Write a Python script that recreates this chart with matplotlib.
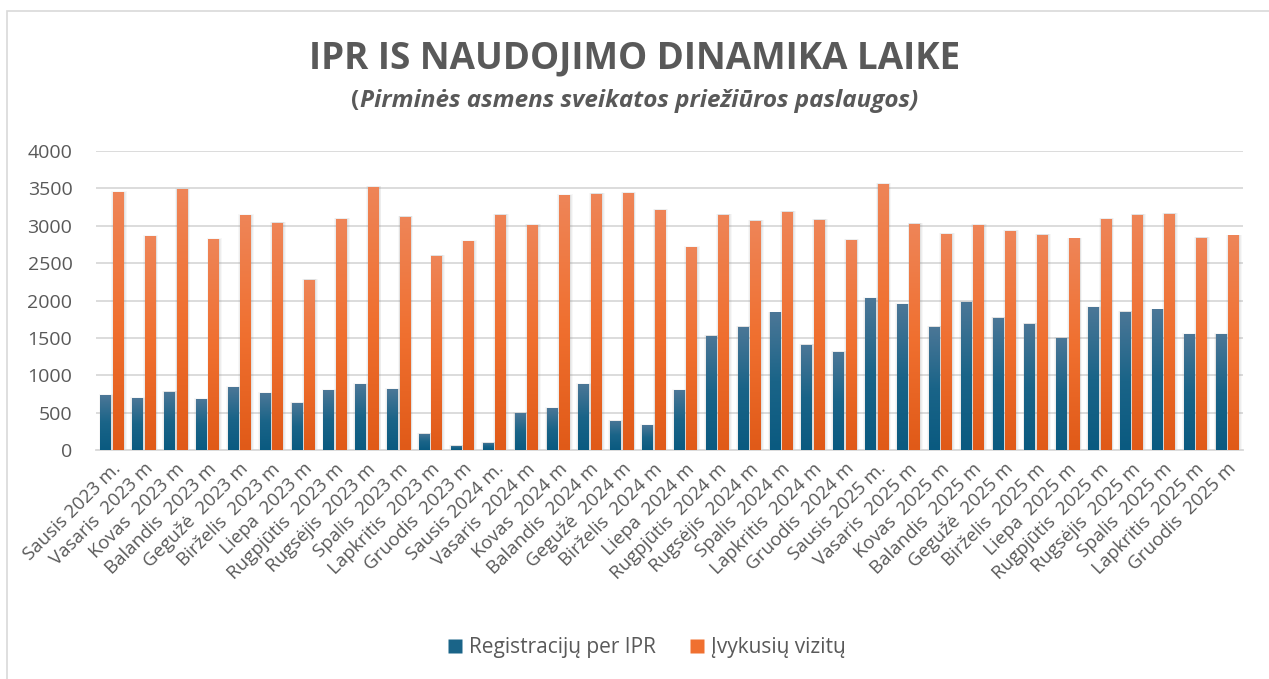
import matplotlib.pyplot as plt
import numpy as np
from matplotlib.colors import LinearSegmentedColormap
from matplotlib.patches import Rectangle
from matplotlib.lines import Line2D

plt.rcParams["font.family"] = ["Open Sans", "DejaVu Sans"]

MONTHS = ["Sausis", "Vasaris", "Kovas", "Balandis", "Gegužė", "Birželis",
          "Liepa", "Rugpjūtis", "Rugsėjis", "Spalis", "Lapkritis", "Gruodis"]
YEARS = [2023, 2024, 2025]

labels = []
for yr in YEARS:
    for i, m in enumerate(MONTHS):
        if i == 0:
            labels.append(f"{m} {yr} m.")
        else:
            labels.append(f"{m}  {yr} m")

registracijos = [730, 690, 780, 680, 840, 760, 630, 800, 880, 810, 220, 60,
                 100, 490, 560, 880, 390, 330, 800, 1530, 1650, 1840, 1410, 1310,
                 2030, 1950, 1650, 1980, 1770, 1690, 1500, 1910, 1850, 1880, 1550, 1550]
vizitai = [3450, 2860, 3490, 2820, 3140, 3040, 2280, 3090, 3520, 3120, 2600, 2790,
           3150, 3010, 3410, 3430, 3440, 3210, 2710, 3150, 3070, 3190, 3080, 2810,
           3560, 3030, 2890, 3010, 2930, 2880, 2830, 3090, 3150, 3160, 2840, 2870]

TEXT = "#595959"
BLUE_CMAP = LinearSegmentedColormap.from_list("b", ["#0A5A80", "#1A6488", "#4C7797"])
ORANGE_CMAP = LinearSegmentedColormap.from_list("o", ["#E05A18", "#F07030", "#EE8558"])

fig = plt.figure(figsize=(12.69, 6.79), dpi=100)
fig.patches.append(Rectangle((7 / 1269, -0.05), 1.2, 1.05 - 11 / 679,
                             transform=fig.transFigure, fill=False,
                             ec="#D9D9D9", lw=1.2))

ax = fig.add_axes([96 / 1269, 1 - 450 / 679, 1147 / 1269, 299 / 679])

x = np.arange(len(labels))
w = 0.33
off = 0.195
grad = np.linspace(1, 0, 256).reshape(-1, 1)


def gradient_bars(xs, vals, cmap):
    # soft shadow
    for k, a in [(0.16, 0.06), (0.10, 0.08), (0.05, 0.10)]:
        ax.bar(xs + 0.02, np.array(vals) + k * 120, width=w + k, bottom=-k * 40,
               color="#808080", alpha=a, lw=0, zorder=2)
    bars = ax.bar(xs, vals, width=w, color=cmap(0.5), lw=0, zorder=3)
    for b in bars:
        x0, y0 = b.get_x(), b.get_y()
        im = ax.imshow(grad, cmap=cmap, aspect="auto", zorder=4,
                       extent=[x0, x0 + b.get_width(), y0, y0 + b.get_height()])
        im.set_clip_path(b)
    return bars


gradient_bars(x - off, registracijos, BLUE_CMAP)
gradient_bars(x + off, vizitai, ORANGE_CMAP)

ax.set_xlim(-0.5, len(labels) - 0.5)
ax.set_ylim(0, 4000)
ax.set_yticks(np.arange(0, 4001, 500))
ax.grid(axis="y", color="#D9D9D9", lw=1.3, zorder=0)
ax.set_axisbelow(True)
for s in ["top", "right", "left"]:
    ax.spines[s].set_visible(False)
ax.spines["bottom"].set_color("#D9D9D9")
ax.spines["bottom"].set_linewidth(1.3)
ax.tick_params(axis="y", length=0, pad=17, labelsize=14, labelcolor=TEXT)
ax.tick_params(axis="x", length=0, pad=7, labelcolor=TEXT)
ax.set_xticks(x)
ax.set_xticklabels(labels, rotation=45, ha="right", rotation_mode="anchor",
                   fontsize=13.5)

fig.text(0.5, 1 - 58 / 679, "IPR IS NAUDOJIMO DINAMIKA LAIKE", ha="center",
         va="center", fontsize=26.5, fontweight="bold", color=TEXT)

# subtitle: opening bracket upright, the rest italic
renderer = fig.canvas.get_renderer()
sub_y = 1 - 101 / 679
t1 = fig.text(0, sub_y, "(", ha="left", va="center", fontsize=17.5,
              fontweight="bold", color=TEXT)
t2 = fig.text(0, sub_y, "Pirminės asmens sveikatos priežiūros paslaugos)",
              ha="left", va="center", fontsize=17.5, fontweight="bold",
              style="italic", color=TEXT)
w1 = t1.get_window_extent(renderer).width
w2 = t2.get_window_extent(renderer).width
start = (fig.bbox.width - w1 - w2) / 2
t1.set_x(start / fig.bbox.width)
t2.set_x((start + w1) / fig.bbox.width)

handles = [
    Line2D([], [], marker="s", ls="none", ms=10, color="#1A6488", mec="none"),
    Line2D([], [], marker="s", ls="none", ms=10, color="#F07030", mec="none"),
]
fig.legend(handles, ["Registracijų per IPR", "Įvykusių vizitų"],
           loc="center", bbox_to_anchor=(645 / 1269, 1 - 648 / 679), ncol=2,
           frameon=False, fontsize=15, labelcolor=TEXT, handletextpad=0.2,
           columnspacing=1.45, handlelength=1.0)

fig.savefig("out.png", dpi=100)
